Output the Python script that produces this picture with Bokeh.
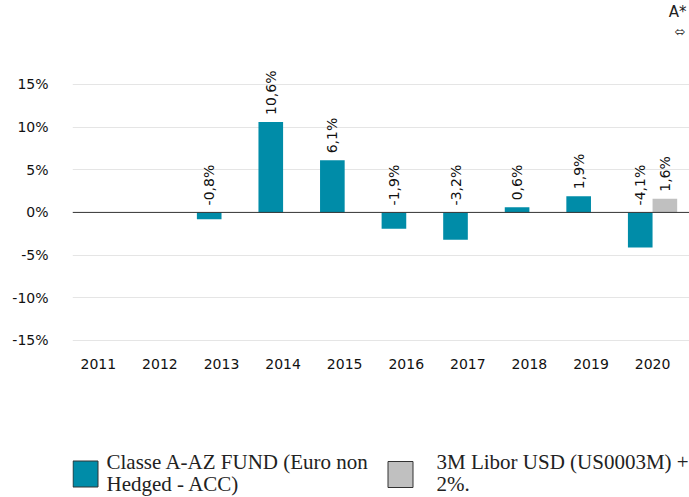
import numpy as np
from bokeh.plotting import figure
from bokeh.layouts import column
from bokeh.models import (ColumnDataSource, Range1d, FixedTicker, Span, Title)
from bokeh.core.properties import value
from bokeh.transform import dodge
from bokeh.embed import file_html
from bokeh.resources import INLINE

years = ["2011", "2012", "2013", "2014", "2015", "2016", "2017", "2018", "2019", "2020"]
fund = [np.nan, np.nan, -0.8, 10.6, 6.1, -1.9, -3.2, 0.6, 1.9, -4.1]
bench = [np.nan, np.nan, np.nan, np.nan, np.nan, np.nan, np.nan, np.nan, np.nan, 1.6]
fund_name_lines = ["Classe A-AZ FUND (Euro non", "Hedged - ACC)"]
bench_name_lines = ["3M Libor USD (US0003M) +", "2%."]
y_ticks = [-15, -10, -5, 0, 5, 10, 15]

FUND_COLOR = "#008ca8"
BENCH_COLOR = "#c0c0c0"

idx = list(range(len(years)))


def fmt(v):
    return ("%.1f%%" % v).replace(".", ",")


def make_src(vals):
    xs, ys, labs, ly = [], [], [], []
    for i, v in zip(idx, vals):
        if v is None or (isinstance(v, float) and np.isnan(v)):
            continue
        xs.append(i)
        ys.append(v)
        labs.append(fmt(v))
        ly.append(max(v, 0))
    return ColumnDataSource(dict(x=xs, top=ys, label=labs, ly=ly))


fsrc = make_src(fund)
bsrc = make_src(bench)

p = figure(width=689, height=400, output_backend="svg", toolbar_location=None,
           x_range=Range1d(-0.42, 9.6), y_range=Range1d(-15.95, 20.15),
           min_border_left=72, min_border_right=0, min_border_top=40,
           min_border_bottom=52,
           title=Title(text="A*", align="right", text_font="DejaVu Sans",
                       text_font_size="15px", text_font_style="normal",
                       text_color="#222222", standoff=0, offset=3))
p.outline_line_color = None
p.background_fill_color = "white"
p.border_fill_color = "white"
p.add_layout(Title(text="\u2b04", align="right", text_font="DejaVu Sans",
                   text_font_size="13px", text_font_style="normal",
                   text_color="#222222", standoff=3, offset=4), "above")

p.vbar(x=dodge("x", -0.2, range=p.x_range), top="top", bottom=0, width=0.4,
       source=fsrc, fill_color=FUND_COLOR, line_color=None)
p.vbar(x=dodge("x", 0.2, range=p.x_range), top="top", bottom=0, width=0.4,
       source=bsrc, fill_color=BENCH_COLOR, line_color=None)

for src, off in ((fsrc, -0.2), (bsrc, 0.2)):
    p.text(x=dodge("x", off, range=p.x_range), y="ly", text="label", source=src,
           angle=np.pi / 2, text_align="left", text_baseline="middle",
           x_offset=0, y_offset=-7, text_font=value("DejaVu Sans"),
           text_font_size="14px", text_color="#111111")

p.add_layout(Span(location=0, dimension="width", line_color="#333333", line_width=1))

# axes
p.xaxis.ticker = FixedTicker(ticks=idx)
p.xaxis.major_label_overrides = {i: y for i, y in zip(idx, years)}
p.yaxis.ticker = FixedTicker(ticks=y_ticks)
p.yaxis.major_label_overrides = {t: "%d%%" % t for t in y_ticks}
for ax in (p.xaxis[0], p.yaxis[0]):
    ax.axis_line_color = None
    ax.major_tick_line_color = None
    ax.minor_tick_line_color = None
    ax.major_tick_out = 0
    ax.major_tick_in = 0
    ax.minor_tick_out = 0
    ax.major_label_text_font = "DejaVu Sans"
    ax.major_label_text_font_size = "14px"
    ax.major_label_text_color = "#111111"
p.xaxis.major_label_standoff = 10
p.yaxis.major_label_standoff = 24
p.xgrid.grid_line_color = None
p.ygrid.grid_line_color = "#e5e5e5"
p.ygrid.ticker = FixedTicker(ticks=[t for t in y_ticks if t != 0])

# legend panel (page-pixel x coordinates; frame aligned with the chart's frame)
lg = figure(width=689, height=97, output_backend="svg", toolbar_location=None,
            x_range=Range1d(72, 689), y_range=Range1d(97, 0),
            x_axis_type=None, y_axis_type=None,
            min_border_left=72, min_border_right=0, min_border_top=0, min_border_bottom=0)
lg.outline_line_color = None
lg.xgrid.grid_line_color = None
lg.ygrid.grid_line_color = None

leg_x = [85, 400]
leg_colors = [FUND_COLOR, BENCH_COLOR]
leg_text_x = [106, 436]
lg.rect(x=leg_x, y=[73.5, 74], width=25, height=26, fill_color=leg_colors,
        line_color="#333333", line_width=1)
for tx, lines in zip(leg_text_x, (fund_name_lines, bench_name_lines)):
    lg.text(x=[tx, tx], y=[61, 83], text=lines, text_align="left",
            text_baseline="alphabetic", text_font=value("Liberation Serif"),
            text_font_size="21px", text_color="#222222")

layout = column(p, lg, spacing=0)
open("out.html", "w").write(file_html(layout, INLINE))
